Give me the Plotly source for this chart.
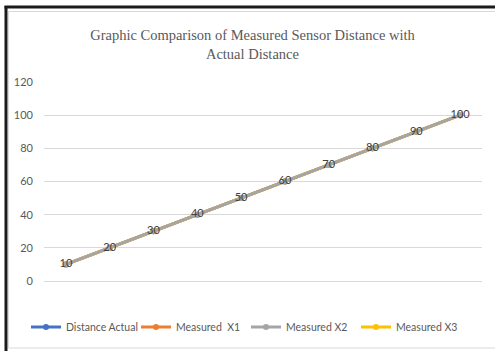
import plotly.graph_objects as go

categories = [1, 2, 3, 4, 5, 6, 7, 8, 9, 10]
distance_actual = [10, 20, 30, 40, 50, 60, 70, 80, 90, 100]
measured_x1 = [10, 20, 30, 40, 50, 60, 70, 80, 90, 100]
measured_x2 = [10, 20, 30, 40, 50, 60, 70, 80, 90, 100]
measured_x3 = [10, 20, 30, 40, 50, 60, 70, 80, 90, 100]
y_ticks = [0, 20, 40, 60, 80, 100, 120]

W, H = 495, 351
L, R, T, B = 44, 13, 82, 70
pw, ph = W - L - R, H - T - B

def px(x):
    return (x - L) / pw

def py(y):
    return (H - B - y) / ph

font_sans = "Lato, Liberation Sans, sans-serif"

fig = go.Figure()
series = [
    ("Distance Actual", distance_actual, "#4472C4", 1),
    ("Measured  X1", measured_x1, "#ED7D31", 2),
    ("Measured X3", measured_x3, "#FFC000", 4),
    ("Measured X2", measured_x2, "#A5A5A5", 3),
]
for name, vals, col, rank in series:
    top = name == "Measured X2"
    fig.add_trace(go.Scatter(
        x=[str(c) for c in categories], y=vals, name=name,
        mode="lines+markers+text" if top else "lines+markers",
        line=dict(color=col, width=3),
        marker=dict(color=col, size=6),
        text=[str(v) for v in vals] if top else None,
        textposition="middle center",
        textfont=dict(family=font_sans, size=11, color="#404040"),
        legendrank=rank,
    ))

shapes = [
    dict(type="rect", xref="paper", yref="paper",
         x0=px(8.5), x1=px(520), y0=py(11.5), y1=py(348),
         line=dict(color="#d9d9d9", width=1), layer="below"),
    dict(type="line", xref="paper", yref="paper",
         x0=px(6), x1=px(6), y0=py(6), y1=py(360),
         line=dict(color="#1a1a1a", width=3)),
    dict(type="line", xref="paper", yref="paper",
         x0=px(4.5), x1=px(520), y0=py(7), y1=py(7),
         line=dict(color="#1a1a1a", width=3)),
]

fig.update_layout(
    width=W, height=H,
    margin=dict(l=L, r=R, t=T, b=B, autoexpand=False),
    paper_bgcolor="white", plot_bgcolor="white",
    title=dict(
        text="Graphic Comparison of Measured Sensor Distance with<br>Actual Distance",
        font=dict(family="Liberation Serif, Times New Roman, serif", size=14.5, color="#595959"),
        x=0.51, xanchor="center", xref="container",
        y=1 - 40 / H, yanchor="top", yref="container",
    ),
    xaxis=dict(type="category", range=[-0.5, 9.5], showticklabels=False,
               showgrid=False, zeroline=False, showline=False, ticks=""),
    yaxis=dict(range=[0, 120], tickvals=y_ticks, showgrid=True,
               gridcolor="#d9d9d9", gridwidth=1, zeroline=True,
               zerolinecolor="#d9d9d9", zerolinewidth=1, showline=False,
               ticks="", ticklabelstandoff=10,
               tickfont=dict(family=font_sans, size=11, color="#595959")),
    legend=dict(orientation="h", x=0.0525, xanchor="left", xref="container",
                y=1 - 327 / H, yanchor="middle", yref="container",
                font=dict(family=font_sans, size=10.5, color="#595959"),
                itemwidth=30, tracegroupgap=0, bgcolor="rgba(0,0,0,0)",
                entrywidth=65, entrywidthmode="pixels"),
    shapes=shapes,
    showlegend=True,
)

fig.write_html("out.html", config={"displayModeBar": False},
               post_script="document.body.style.margin='0';document.body.style.padding='0';")
